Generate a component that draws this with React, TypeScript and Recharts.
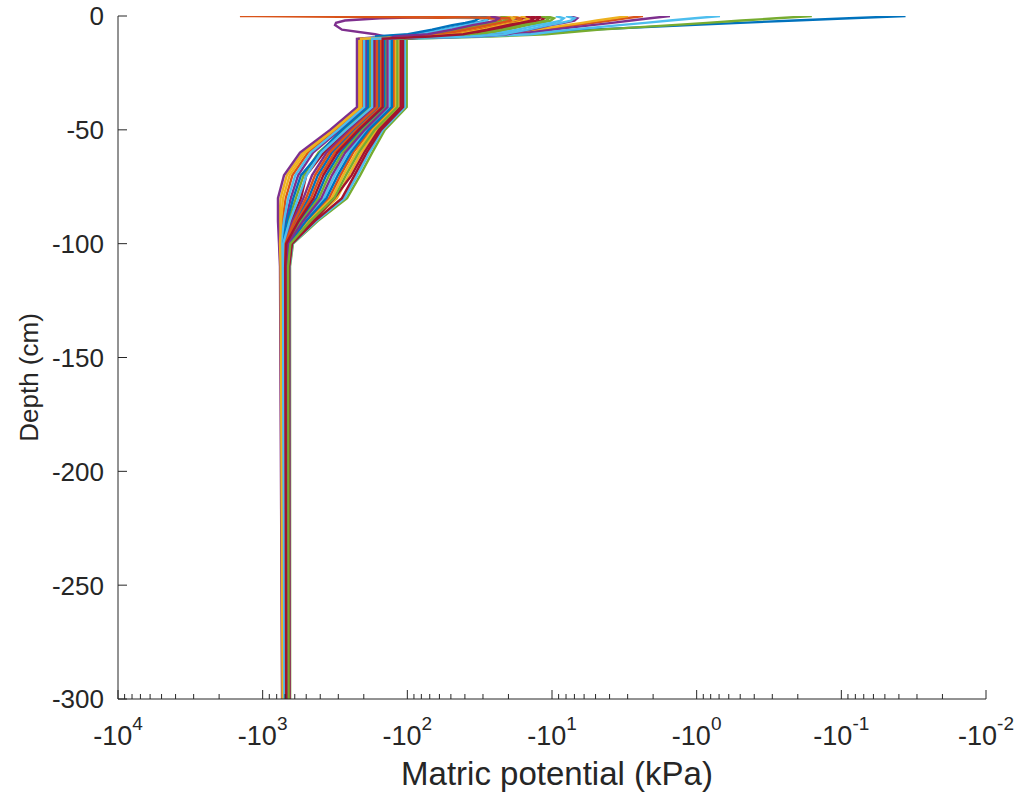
import { LineChart, Line, XAxis, YAxis } from 'recharts'

// depth nodes (cm) shared by every profile
const depths = [0, -1, -2, -3, -4, -6, -8, -9, -10, -40, -50, -60, -70, -80, -90, -100, -110, -300]

// matric potential (kPa) at each depth node, one array per simulated day
const profile01 = [-0.036, -0.088, -0.21, -0.5, -1.12, -5.4, -16.5, -36.7, -157, -157, -234, -332, -416, -481, -590, -699, -707, -694]
const profile02 = [-2.35, -3.1, -3.97, -5.2, -6.8, -11.4, -19.3, -46.7, -124, -124, -178, -237, -290, -347, -489, -654, -675, -668]
const profile03 = [-2.98, -3.8, -4.9, -6.2, -8, -12.7, -20.9, -50.6, -216, -216, -332, -529, -681, -752, -765, -765, -754, -732]
const profile04 = [-1.53, -2.1, -2.84, -3.85, -5.3, -9.8, -17.8, -43.1, -193, -193, -292, -448, -569, -639, -696, -740, -736, -718]
const profile05 = [-0.16, -0.28, -0.49, -0.85, -1.48, -4.66, -11, -26.6, -101, -101, -143, -175, -212, -261, -415, -617, -647, -646]
const profile06 = [-0.69, -1.03, -1.53, -2.27, -3.4, -7.4, -14, -31.3, -104, -104, -148, -183, -222, -272, -425, -622, -651, -650]
const profile07 = [-14, -12.3, -12.9, -15.2, -18.7, -25.8, -38, -64.3, -170, -170, -257, -377, -500, -543, -634, -716, -720, -704]
const profile08 = [-249, -17.8, -17.3, -20.3, -24.6, -35, -51.5, -88.5, -143, -143, -210, -292, -364, -426, -550, -681, -695, -685]
const profile09 = [-155, -23.4, -22.7, -26.6, -32.3, -46, -67.5, -117, -202, -202, -311, -486, -623, -693, -730, -752, -746, -725]
const profile10 = [-18.7, -16.5, -17.3, -20.3, -25, -34.4, -50.6, -85.7, -113, -113, -162, -208, -254, -307, -456, -637, -663, -659]
const profile11 = [-36.7, -155, -270, -311, -316, -283, -167, -143, -223, -223, -342, -552, -712, -784, -784, -771, -759, -735]
const profile12 = [-11, -9.7, -10.2, -11.9, -14.7, -20.3, -29.8, -50.6, -181, -181, -274, -411, -521, -589, -664, -728, -728, -711]
const profile13 = [-9.4, -8.3, -8.7, -10.2, -12.5, -17.3, -25.4, -43.1, -132, -132, -191, -257, -318, -377, -512, -664, -683, -675]
const profile14 = [-292, -14, -13.6, -16, -19.3, -27.5, -40.4, -69.7, -107, -107, -152, -191, -232, -283, -435, -627, -655, -653]
const profile15 = [-31.3, -27.5, -28.9, -33.9, -41.8, -57.5, -84.4, -143, -187, -187, -283, -400, -544, -614, -680, -734, -733, -715]
const profile16 = [-1436, -16.5, -16, -18.7, -22.7, -32.3, -47.4, -82, -152, -152, -224, -318, -398, -463, -577, -692, -703, -691]
const profile17 = [-20.9, -18.4, -19.3, -22.7, -28, -38.6, -56.7, -96, -120, -120, -173, -226, -278, -333, -478, -648, -670, -665]
const profile18 = [-7.6, -6.7, -7, -8.3, -10.2, -14, -20.6, -35, -165, -165, -249, -361, -456, -522, -619, -710, -716, -701]
const profile19 = [-22.7, -19.9, -20.9, -24.6, -30.3, -41.8, -61.3, -104, -139, -139, -203, -280, -348, -409, -538, -676, -691, -681]
const profile20 = [-82, -28.9, -28.1, -33, -39.8, -56.7, -83.1, -143, -199, -199, -301, -466, -595, -666, -713, -746, -741, -722]
const profile21 = [-12.9, -11.3, -11.9, -14, -17.3, -23.8, -35, -59.4, -111, -111, -157, -199, -243, -320, -445, -632, -659, -656]
const profile22 = [-36.7, -32, -33.9, -39.8, -49, -67.5, -99, -167, -128, -128, -185, -246, -303, -362, -501, -659, -679, -672]
const profile23 = [-113, -19.9, -19.3, -22.7, -27.5, -39.2, -57.5, -99, -162, -162, -241, -346, -435, -501, -604, -704, -711, -698]
const profile24 = [-16.5, -14.5, -15.2, -17.8, -22, -30.3, -44.6, -75.5, -209, -209, -321, -508, -651, -723, -747, -759, -751, -728]
const profile25 = [-26.6, -23.4, -24.6, -28.9, -35.5, -49, -72, -122, -137, -137, -197, -269, -332, -393, -525, -670, -687, -678]
const profile26 = [-11.9, -10.5, -11, -12.9, -16, -22, -32.3, -54.9, -117, -117, -168, -217, -266, -320, -467, -643, -667, -662]
const profile27 = [-8, -7, -7.4, -8.7, -10.6, -14.7, -21.6, -36.7, -175, -175, -266, -394, -498, -566, -649, -722, -724, -707]
const profile28 = [-15.2, -13.3, -14, -16.5, -20.3, -28, -41.1, -69.7, -148, -148, -217, -305, -381, -444, -564, -687, -699, -688]

const profiles = [
  profile01, profile02, profile03, profile04, profile05, profile06, profile07,
  profile08, profile09, profile10, profile11, profile12, profile13, profile14,
  profile15, profile16, profile17, profile18, profile19, profile20, profile21,
  profile22, profile23, profile24, profile25, profile26, profile27, profile28,
]

// MATLAB default colour order
const colors = ['#0072BD', '#D95319', '#EDB120', '#7E2F8E', '#77AC30', '#4DBEEE', '#A2142F']

// axis ticks: x is |potential| on a reversed log axis
const xMajorTicks = [10000, 1000, 100, 10, 1, 0.1, 0.01]
const xMinorMultipliers = [2, 3, 4, 5, 6, 7, 8, 9]
const yTicks = [0, -50, -100, -150, -200, -250, -300]

const axisColor = '#262626'
const font = '"Liberation Sans", Arial, Helvetica, sans-serif'

const xMinorTicks = xMajorTicks.slice(1).flatMap((d) => xMinorMultipliers.map((m) => +(m * d).toPrecision(3)))
const xTicks = [...xMajorTicks, ...xMinorTicks]

const series = profiles.map((p) => p.map((psi, j) => ({ depth: depths[j], psi })))

function XTick({ x, y, payload }: any) {
  const v = payload.value as number
  const major = xMajorTicks.includes(v)
  const exp = Math.round(Math.log10(v))
  return (
    <g>
      <line x1={x} y1={y} x2={x} y2={y - (major ? 9 : 5)} stroke={axisColor} strokeWidth={1} />
      {major && (
        <text x={x} y={y + 46} textAnchor="middle" fontSize={27} fill={axisColor} fontFamily={font}>
          -10
          <tspan dy={-15} fontSize={19}>
            {exp}
          </tspan>
        </text>
      )}
    </g>
  )
}

function YTick({ x, y, payload }: any) {
  return (
    <g>
      <line x1={x} y1={y} x2={x + 9} y2={y} stroke={axisColor} strokeWidth={1} />
      <text x={x - 14} y={y} dy="0.36em" textAnchor="end" fontSize={26} fill={axisColor} fontFamily={font}>
        {payload.value}
      </text>
    </g>
  )
}

function XLabel(props: any) {
  const vb = props.viewBox ?? { x: 118, y: 699, width: 868, height: 100 }
  return (
    <text x={vb.x + vb.width / 2 + 5} y={vb.y + 86} textAnchor="middle" fontSize={33} fill={axisColor} fontFamily={font}>
      Matric potential (kPa)
    </text>
  )
}

function YLabel(props: any) {
  const vb = props.viewBox ?? { x: 0, y: 16, width: 118, height: 683 }
  const cx = vb.x + 38
  const cy = vb.y + vb.height / 2 + 20
  return (
    <text
      x={cx}
      y={cy}
      transform={`rotate(-90 ${cx} ${cy})`}
      textAnchor="middle"
      fontSize={26}
      fill={axisColor}
      fontFamily={font}
    >
      Depth (cm)
    </text>
  )
}

export default function App() {
  return (
    <div style={{ position: 'absolute', left: 0, top: 0, width: 1022, height: 799, background: '#fff' }}>
      <LineChart width={1022} height={799} margin={{ top: 16, right: 36, bottom: 0, left: 0 }}>
        <XAxis
          type="number"
          dataKey={(d: any) => -d.psi}
          scale="log"
          domain={[0.01, 10000]}
          reversed
          allowDataOverflow
          ticks={xTicks}
          interval={0}
          tickSize={0}
          tickMargin={0}
          tickLine={false}
          tick={<XTick />}
          axisLine={{ stroke: axisColor, strokeWidth: 1 }}
          height={100}
          label={{ content: XLabel }}
        />
        <YAxis
          type="number"
          domain={[-300, 0]}
          allowDataOverflow
          ticks={yTicks}
          interval={0}
          tickSize={0}
          tickMargin={0}
          tickLine={false}
          tick={<YTick />}
          axisLine={{ stroke: axisColor, strokeWidth: 1 }}
          width={118}
          label={{ content: YLabel }}
        />
        {series.map((data, i) => (
          <Line
            key={i}
            data={data}
            dataKey="depth"
            type="linear"
            stroke={colors[i % colors.length]}
            strokeWidth={2.4}
            dot={false}
            activeDot={false}
            isAnimationActive={false}
          />
        ))}
      </LineChart>
    </div>
  )
}
